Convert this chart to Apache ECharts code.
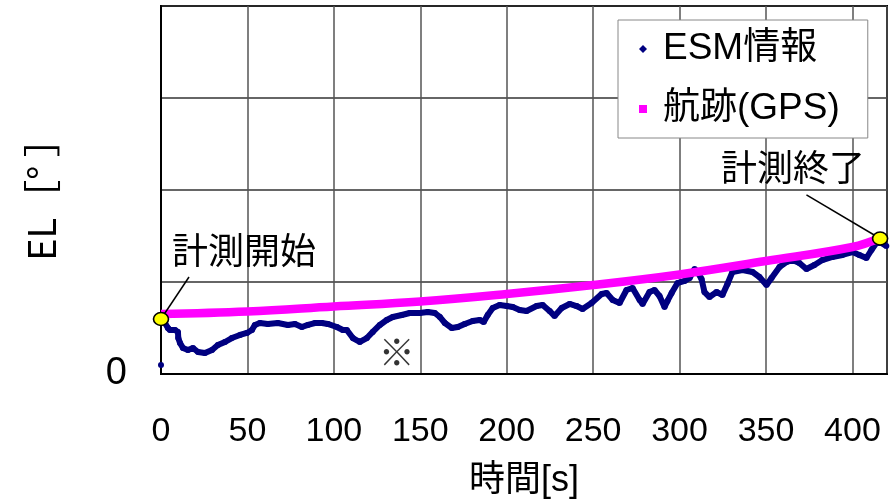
<!DOCTYPE html>
<html>
<head>
<meta charset="utf-8">
<style>
  html, body { margin: 0; padding: 0; background: #fff; }
  #chart { width: 894px; height: 499px; }
</style>
<script src="https://cdn.jsdelivr.net/npm/echarts@6/dist/echarts.min.js"></script>
</head>
<body>
<div id="chart"></div>
<script>
// ESM elevation samples (time [s], EL [deg]); null breaks the trace after the first sample
const timeESM = [0, 1, 2.3, 4.0, 5.2, 8.1, 9.8, 10.0, 11.0, 12.7, 15.6, 18.5, 21.4, 25.4, 29.5, 32.9, 37.0, 41.0, 45.7, 49.7,
  52.6, 54.3, 57.2, 61.8, 67.6, 73.4, 77.5, 81.5, 85.0, 89.0, 93.1, 96.5, 101.7, 105.2, 107.5, 111.0, 115.0, 119.1, 122.5,
  126.6, 130.6, 134.1, 139.3, 143.9, 149.7, 154.3, 158.4, 161.3, 164.2, 168.2, 171.7, 175.7, 180.3, 184.4, 186.7, 189.0,
  191.9, 195.9, 200.0, 203.5, 207.5, 211.5, 217.3, 220.8, 224.8, 227.7, 231.8, 236.4, 240.4, 243.9, 249.1, 254.9, 257.8,
  261.3, 265.3, 269.3, 272.8, 276.9, 278.6, 282.6, 285.5, 288.4, 291.3, 293.0, 295.4, 298.8, 302.9, 305.8, 308.7, 310.4,
  312.7, 314.4, 317.3, 321.4, 324.8, 327.7, 330.6, 336.4, 342.2, 346.2, 350.3, 353.2, 357.8, 361.8, 365.3, 369.3, 373.4,
  378.0, 382.6, 388.4, 394.2, 400.0, 404.0, 408.1, 411.0, 413.8, 416.7, 419.6];
const elESM = [0.98, null, 5.54, 5.00, 4.78, 4.78, 4.57, 3.90, 3.37, 2.83, 2.61, 2.83, 2.39, 2.28, 2.61, 3.15, 3.48, 3.91, 4.24, 4.46,
  4.78, 5.33, 5.54, 5.44, 5.54, 5.33, 5.44, 5.11, 5.33, 5.54, 5.54, 5.44, 5.11, 4.78, 4.78, 3.91, 3.48, 3.91, 4.57,
  5.33, 5.87, 6.20, 6.41, 6.63, 6.63, 6.74, 6.63, 6.20, 5.54, 5.00, 5.11, 5.44, 5.76, 5.87, 5.65, 6.41,
  7.17, 7.50, 7.39, 7.28, 6.96, 6.85, 7.39, 7.50, 6.85, 6.30, 7.17, 7.61, 7.39, 7.07, 7.72, 8.70, 8.80,
  8.04, 7.72, 9.13, 9.35, 8.04, 7.61, 8.91, 9.13, 8.48, 7.28, 7.94, 8.80, 9.89, 10.11, 10.44, 11.41, 11.09,
  10.33, 8.91, 8.37, 8.91, 8.59, 9.78, 11.09, 11.30, 11.09, 10.54, 9.67, 10.44, 11.63, 12.17, 12.39, 12.07, 11.41,
  11.85, 12.39, 12.72, 12.94, 13.26, 12.94, 12.61, 13.48, 14.24, 14.24, 13.91];

// Track (GPS) elevation
const timeGPS = [0, 50, 100, 150, 200, 250, 300, 350, 400, 416];
const elGPS = [6.52, 6.79, 7.34, 7.88, 8.70, 9.67, 10.82, 12.28, 13.80, 14.78];

// Measurement start / end markers and their captions
const markTime = [0, 416];
const markEL = [5.98, 14.73];
const markText = ['計測開始', '計測終了'];
// Leader line ends at the caption side
const leaderTime = [16.2, 373.4];
const leaderEL = [10.54, 19.46];

// Note mark under the dip around 110 s
const noteTime = [136.4];
const noteEL = [2.39];
const noteText = ['※'];

// Axis ticks
const xTicks = [0, 50, 100, 150, 200, 250, 300, 350, 400];
const yTicks = [0];

const FONT = '"Liberation Sans", Arial, "Noto Sans CJK JP", sans-serif';
const CJK = '"Noto Sans CJK JP", sans-serif';

const esmData = timeESM.map((t, i) => [t, elESM[i] === null ? '-' : elESM[i]]);
const gpsData = timeGPS.map((t, i) => [t, elGPS[i]]);

const chart = echarts.init(document.getElementById('chart'), null, { renderer: 'canvas' });

chart.setOption({
  animation: false,
  backgroundColor: '#fff',
  grid: {
    left: 161, right: 7, top: 6, bottom: 125,
    outerBoundsMode: 'none',
    containLabel: false,
    show: true, borderColor: '#000', borderWidth: 2
  },
  legend: {
    orient: 'vertical',
    left: 618, top: 20,
    backgroundColor: '#fff',
    borderColor: '#888', borderWidth: 1, borderRadius: 0,
    padding: [9, 28, 9, 21],
    itemGap: 20, itemWidth: 8, itemHeight: 8,
    textStyle: { fontSize: 37, lineHeight: 40, fontFamily: FONT, color: '#000', padding: [0, 0, 0, 11] },
    data: [
      { name: 'ESM情報', icon: 'diamond' },
      { name: '航跡(GPS)', icon: 'rect' }
    ]
  },
  xAxis: {
    type: 'value', min: 0, max: 420, interval: 50,
    name: '時間[s]', nameLocation: 'middle', nameGap: 89,
    nameTextStyle: { fontSize: 36, fontFamily: FONT, color: '#000' },
    axisLine: { show: true, lineStyle: { color: '#000', width: 2 } },
    axisTick: { show: false },
    axisLabel: {
      fontSize: 34, fontFamily: FONT, color: '#000', margin: 41,
      formatter: v => (xTicks.indexOf(v) >= 0 ? String(v) : '')
    },
    splitLine: { show: true, lineStyle: { color: '#555', width: 1.5 } }
  },
  yAxis: {
    type: 'value', min: 0, max: 40, interval: 10,
    name: 'EL［° ］', nameLocation: 'middle', nameGap: 100, nameRotate: 90,
    nameTextStyle: { fontSize: 38, fontFamily: CJK, color: '#000' },
    axisLine: { show: true, lineStyle: { color: '#000', width: 2 } },
    axisTick: { show: false },
    axisLabel: {
      fontSize: 38, fontFamily: FONT, color: '#000', margin: 34, padding: [16, 0, 0, 0],
      formatter: v => (yTicks.indexOf(v) >= 0 ? String(v) : '')
    },
    splitLine: { show: true, lineStyle: { color: '#333', width: 1.5 } }
  },
  series: [
    {
      name: 'ESM情報',
      type: 'line',
      data: esmData,
      connectNulls: false,
      showSymbol: true,
      symbol: 'circle',
      symbolSize: 6,
      color: '#000080',
      itemStyle: { color: '#000080' },
      lineStyle: { color: '#000080', width: 6 },
      z: 3
    },
    {
      name: '航跡(GPS)',
      type: 'line',
      data: gpsData,
      smooth: 0.4,
      showSymbol: false,
      color: '#FF00FF',
      itemStyle: { color: '#FF00FF' },
      lineStyle: { color: '#FF00FF', width: 8.5 },
      z: 4
    },
    {
      name: 'markers',
      type: 'scatter',
      data: markTime.map((t, i) => ({
        value: [t, markEL[i]],
        label: {
          show: true,
          position: 'inside',
          formatter: markText[i],
          offset: i === 0 ? [83, -65] : [-87, -67],
          fontSize: 36, fontFamily: FONT, color: '#000'
        }
      })),
      symbol: 'circle',
      symbolSize: [15, 13],
      itemStyle: { color: '#FFFF00', borderColor: '#000', borderWidth: 1.5, opacity: 1 },
      markLine: {
        silent: true,
        symbol: 'none',
        label: { show: false },
        lineStyle: { color: '#000', width: 1.5, type: 'solid' },
        data: markTime.map((t, i) => [
          { coord: [t, markEL[i]] },
          { coord: [leaderTime[i], leaderEL[i]] }
        ])
      },
      clip: false,
      z: 6
    },
    {
      name: 'note',
      type: 'scatter',
      data: noteTime.map((t, i) => ({
        value: [t, noteEL[i]],
        label: {
          show: true, position: 'inside', formatter: noteText[i],
          fontSize: 36, fontFamily: CJK, color: '#000'
        }
      })),
      symbol: 'circle',
      symbolSize: 2,
      itemStyle: { color: 'rgba(0,0,0,0)' },
      z: 5
    }
  ]
});
</script>
</body>
</html>
